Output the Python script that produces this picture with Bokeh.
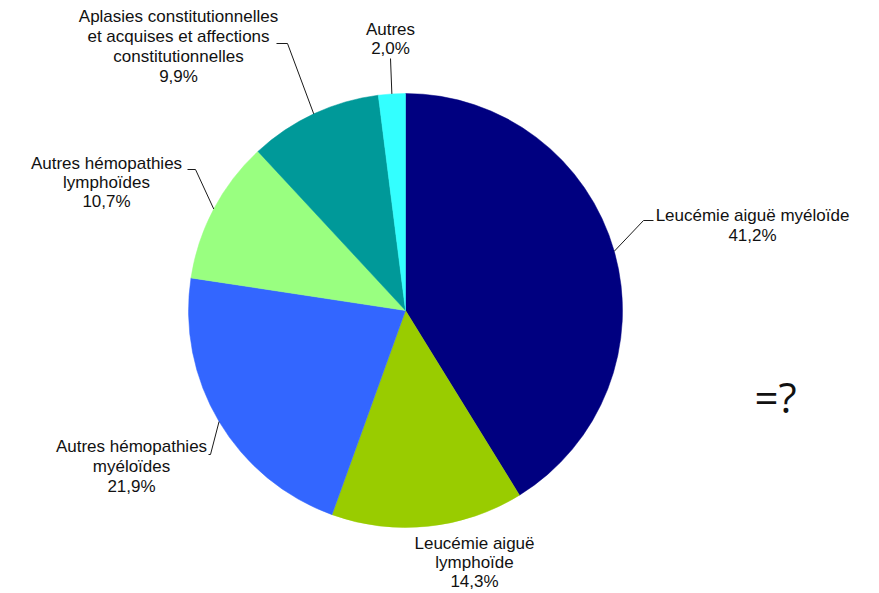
import math
from bokeh.plotting import figure
from bokeh.models import Range1d, ColumnDataSource
from bokeh.core.properties import value
from bokeh.embed import file_html
from bokeh.resources import INLINE

# ---- data ----
categories = [
    "Leucémie aiguë myéloïde",
    "Leucémie aiguë\nlymphoïde",
    "Autres hémopathies\nmyéloïdes",
    "Autres hémopathies\nlymphoïdes",
    "Aplasies constitutionnelles\net acquises et affections\nconstitutionnelles",
    "Autres",
]
values = [41.2, 14.3, 21.9, 10.7, 9.9, 2.0]
value_labels = ["41,2%", "14,3%", "21,9%", "10,7%", "9,9%", "2,0%"]

# ---- styles / layout ----
colors = ["#000080", "#99CC00", "#3366FF", "#99FF80", "#009999", "#33FFFF"]
W, H = 879, 593
CX, CY, R = 405, 310, 217  # pixel coords of pie centre, radius


def Y(py):
    return H - py


# label anchor (centre x, first line centre y, line spacing) in pixel coords
label_pos = [(752, 215, 20), (474, 543, 19), (131, 446, 20),
             (106, 163, 19), (178, 16, 20), (390, 29, 19)]
# leader elbow / end points in pixel coords (None = no leader)
leaders = [
    ((643, 220), (653, 220)),
    None,
    ((210, 454), (208, 454)),
    ((195, 169), (187, 169)),
    ((287, 43), (276, 43)),
    ((390, 58), (390, 58)),
]
FONT = value("Liberation Sans")
FSIZE = "17px"

p = figure(width=W, height=H, output_backend="svg", toolbar_location=None,
           x_range=Range1d(0, W), y_range=Range1d(0, H), min_border=0)
p.axis.visible = False
p.grid.visible = False
p.outline_line_color = None
p.background_fill_color = "white"
p.border_fill_color = "white"

total = sum(values)
starts, ends, mids = [], [], []
cum = 0.0
for v in values:
    a0 = math.pi / 2 - 2 * math.pi * cum / total
    cum += v
    a1 = math.pi / 2 - 2 * math.pi * cum / total
    starts.append(a0)
    ends.append(a1)
    mids.append((a0 + a1) / 2)

src = ColumnDataSource(dict(start=starts, end=ends, color=colors))
p.wedge(x=CX, y=Y(CY), radius=R, start_angle="start", end_angle="end",
        direction="clock", fill_color="color", line_color="color", line_width=0.5,
        source=src)

# leader lines
for i, ld in enumerate(leaders):
    if ld is None:
        continue
    ex = CX + R * math.cos(mids[i])
    ey = Y(CY) + R * math.sin(mids[i])
    (bx, by), (tx_, ty_) = ld
    p.line([ex, bx, tx_], [ey, Y(by), Y(ty_)], line_color="#1a1a1a", line_width=1)

# labels
tx, ty, tt = [], [], []
for i, cat in enumerate(categories):
    lines = cat.split("\n") + [value_labels[i]]
    lx, ly, sp = label_pos[i]
    for k, ln in enumerate(lines):
        tx.append(lx)
        ty.append(Y(ly + k * sp))
        tt.append(ln)
p.text(x=tx, y=ty, text=tt, text_font=FONT, text_font_size=FSIZE,
       text_align="center", text_baseline="middle", text_color="#111111")

p.text(x=[775], y=[Y(396)], text=["=?"], text_font=value("Open Sans"),
       text_font_size="42px", text_align="center", text_baseline="middle",
       text_color="#111111")

open("out.html", "w").write(file_html(p, INLINE))
